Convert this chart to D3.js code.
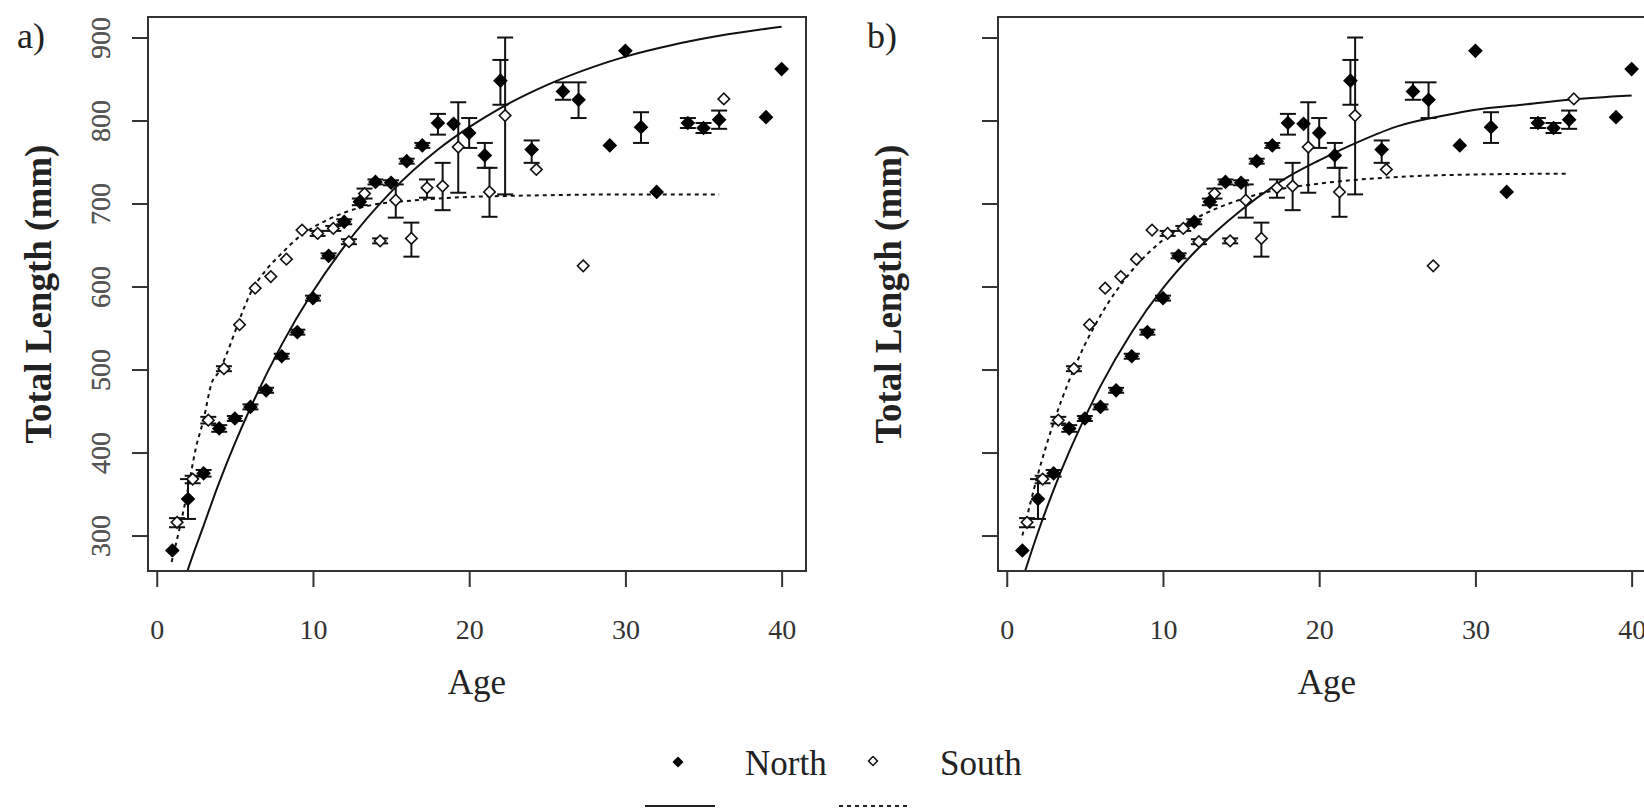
<!DOCTYPE html>
<html>
<head>
<meta charset="utf-8">
<script src="https://cdn.jsdelivr.net/npm/d3@7/dist/d3.min.js"></script>
<style>
  html, body { margin: 0; padding: 0; background: #ffffff; }
  svg { display: block; }
  text { font-family: "Liberation Serif", "Times New Roman", serif; }
</style>
</head>
<body>
<svg id="chart" width="1644" height="809"></svg>
<script>
// ---- North: mean total length (mm) by age, with standard-error limits ----
const northAge = [1, 2, 3, 4, 5, 6, 7, 8, 9, 10, 11, 12, 13, 14, 15, 16, 17, 18, 19, 20, 21, 22, 24, 26, 27, 29, 30, 31, 32, 34, 35, 36, 39, 40];
const northLen = [282, 344, 375, 429, 441, 455, 475, 516, 545, 586, 637, 678, 702, 726, 725, 751, 770, 797, 796, 785, 758, 848, 765, 835, 825, 770, 884, 792, 714, 797, 791, 801, 804, 862];
const northLo  = [null, 320, 371, 425, 438, 452, 472, 513, 542, 583, 634, 675, 698, 723, 722, 748, 767, 783, null, 767, 743, 819, 749, 825, 803, null, null, 773, null, 791, 785, 790, null, null];
const northHi  = [null, 368, 379, 433, 444, 458, 478, 519, 548, 589, 640, 681, 706, 729, 728, 754, 773, 808, null, 803, 773, 873, 776, 846, 846, null, null, 810, null, 803, 797, 812, null, null];

// ---- South: mean total length (mm) by age, with standard-error limits ----
const southAge = [1, 2, 3, 4, 5, 6, 7, 8, 9, 10, 11, 12, 13, 14, 15, 16, 17, 18, 19, 21, 22, 24, 27, 36];
const southLen = [316, 368, 439, 501, 554, 598, 612, 633, 668, 664, 670, 654, 712, 655, 704, 658, 719, 721, 768, 714, 806, 741, 625, 826];
const southLo  = [310, 363, 435, 498, null, null, null, null, null, 661, 667, 651, 706, 652, 683, 636, 707, 692, 713, 684, 711, null, null, null];
const southHi  = [321, 372, 443, 504, null, null, null, null, null, 667, 673, 657, 718, 658, 723, 677, 729, 749, 822, 743, 900, null, null, null];

// ---- Fitted growth curves, panel a ----
const fitAgeNorthA = [1, 1.96, 3, 4, 5, 6, 8, 10, 12, 15, 18, 20, 22, 25, 28, 30, 33, 36, 40];
const fitLenNorthA = [196, 257, 312, 364, 411, 454, 530, 594, 648, 714, 765, 792, 815, 843, 865, 877, 891, 902, 913];
const fitAgeSouthA = [0.95, 1.5, 2, 2.5, 3, 3.5, 4, 4.5, 5, 5.5, 6, 7, 8, 9, 10, 11, 12, 13, 14, 16, 18, 20, 22, 25, 30, 36];
const fitLenSouthA = [268, 312, 356, 405, 440, 483, 498, 520, 545, 570, 592, 620, 640, 658, 671, 681, 689, 695, 699, 703, 706, 708, 709, 710, 711, 711];

// ---- Fitted growth curves, panel b ----
const fitAgeNorthB = [1, 2, 3, 4, 5, 6, 8, 10, 12, 15, 18, 20, 22, 25, 28, 30, 33, 36, 40];
const fitLenNorthB = [247, 304, 355, 401, 442, 480, 545, 598, 641, 692, 732, 752, 770, 793, 806, 813, 819, 825, 830];
const fitAgeSouthB = [1, 2, 3, 4, 5, 6, 8, 10, 12, 15, 18, 20, 22, 25, 30, 36];
const fitLenSouthB = [300, 374, 436, 487, 530, 565, 619, 656, 681, 705, 719, 724, 728, 732, 735, 736];

// ---- Axis ticks and labels ----
const xTicks = [0, 10, 20, 30, 40];
const yTicks = [300, 400, 500, 600, 700, 800, 900];
const panelLabels = ["a)", "b)"];
const xTitle = "Age";
const yTitle = "Total Length (mm)";
const legendNames = ["North", "South"];

// ---- Layout ----
const svg = d3.select("#chart");
const plotW = 658, plotH = 554;
const plotTop = 17;
const panelLefts = [148, 998];
const SOUTH_SHIFT = 0.3;   // South means are drawn slightly right of the age to avoid overlap
const CAP = 8;             // half-width of error-bar caps

// Data extent padded by 4% on each side (as R plots do)
const allY = northLen.concat(southLen, northLo.filter(v => v != null), northHi.filter(v => v != null),
                             southLo.filter(v => v != null), southHi.filter(v => v != null));
const xExt = d3.extent(northAge.concat(southAge));
const yExt = d3.extent(allY);
const padX = (xExt[1] - xExt[0]) * 0.04, padY = (yExt[1] - yExt[0]) * 0.04;

const fits = [
  { north: [fitAgeNorthA, fitLenNorthA], south: [fitAgeSouthA, fitLenSouthA] },
  { north: [fitAgeNorthB, fitLenNorthB], south: [fitAgeSouthB, fitLenSouthB] }
];

const filledDiamond = d3.symbol(d3.symbolSquare, 108)();
const openDiamond = d3.symbol(d3.symbolSquare, 66)();

panelLefts.forEach((left, pi) => {
  const x = d3.scaleLinear().domain([xExt[0] - padX, xExt[1] + padX]).range([left, left + plotW]);
  const y = d3.scaleLinear().domain([yExt[0] - padY, yExt[1] + padY]).range([plotTop + plotH, plotTop]);

  const clipId = "clip" + pi;
  svg.append("clipPath").attr("id", clipId)
    .append("rect").attr("x", left).attr("y", plotTop).attr("width", plotW).attr("height", plotH);

  // axes (ticks + labels)
  const xAxis = svg.append("g").attr("transform", `translate(0,${plotTop + plotH})`)
    .call(d3.axisBottom(x).tickValues(xTicks).tickSize(16).tickPadding(32).tickFormat(d3.format("d")));
  xAxis.select(".domain").remove();
  xAxis.selectAll("line").attr("stroke", "#333").attr("stroke-width", 2);
  xAxis.selectAll("text").attr("font-size", 28).attr("fill", "#333").attr("dy", "0.71em")
    .style("font-family", '"Liberation Serif", serif');

  const yAxis = svg.append("g").attr("transform", `translate(${left},0)`)
    .call(d3.axisLeft(y).tickValues(yTicks).tickSize(16).tickFormat(d3.format("d")));
  yAxis.select(".domain").remove();
  yAxis.selectAll("line").attr("stroke", "#333").attr("stroke-width", 2);
  yAxis.selectAll(".tick text")
    .attr("x", null).attr("dy", null)
    .attr("text-anchor", "middle")
    .attr("transform", `translate(${110 - left},0) rotate(-90)`)
    .attr("font-size", 28).attr("fill", "#555")
    .style("font-family", '"Liberation Serif", serif');

  // axis titles and panel tag
  svg.append("text").attr("x", (x.range()[0] + x.range()[1]) / 2).attr("y", 694)
    .attr("text-anchor", "middle").attr("font-size", 35).attr("fill", "#222").text(xTitle);
  svg.append("text").attr("transform", `translate(${left - 97},${plotTop + plotH / 2}) rotate(-90)`)
    .attr("text-anchor", "middle").attr("font-size", 37).attr("font-weight", "bold").attr("fill", "#222").text(yTitle);
  svg.append("text").attr("x", left - 131).attr("y", 48)
    .attr("font-size", 36).attr("fill", "#222").text(panelLabels[pi]);

  const plot = svg.append("g").attr("clip-path", `url(#${clipId})`);

  // fitted curves
  const line = d3.line().x(d => x(d[0])).y(d => y(d[1])).curve(d3.curveMonotoneX);
  const nf = d3.zip(fits[pi].north[0], fits[pi].north[1]);
  const sf = d3.zip(fits[pi].south[0], fits[pi].south[1]);
  plot.append("path").attr("d", line(nf)).attr("fill", "none").attr("stroke", "#111").attr("stroke-width", 2);
  plot.append("path").attr("d", line(sf)).attr("fill", "none").attr("stroke", "#111").attr("stroke-width", 2)
    .attr("stroke-dasharray", "4,4");

  // error bars
  function bars(ages, lo, hi, shift) {
    ages.forEach((a, i) => {
      if (lo[i] == null) return;
      const cx = x(a + shift);
      const g = plot.append("g").attr("stroke", "#111").attr("stroke-width", 2);
      g.append("line").attr("x1", cx).attr("x2", cx).attr("y1", y(lo[i])).attr("y2", y(hi[i]));
      g.append("line").attr("x1", cx - CAP).attr("x2", cx + CAP).attr("y1", y(lo[i])).attr("y2", y(lo[i]));
      g.append("line").attr("x1", cx - CAP).attr("x2", cx + CAP).attr("y1", y(hi[i])).attr("y2", y(hi[i]));
    });
  }
  bars(northAge, northLo, northHi, 0);
  bars(southAge, southLo, southHi, SOUTH_SHIFT);

  // points
  plot.selectAll(null).data(d3.zip(southAge, southLen)).join("path")
    .attr("d", openDiamond)
    .attr("transform", d => `translate(${x(d[0] + SOUTH_SHIFT)},${y(d[1])}) rotate(45)`)
    .attr("fill", "#fff").attr("stroke", "#111").attr("stroke-width", 1.6);
  plot.selectAll(null).data(d3.zip(northAge, northLen)).join("path")
    .attr("d", filledDiamond)
    .attr("transform", d => `translate(${x(d[0])},${y(d[1])}) rotate(45)`)
    .attr("fill", "#000");

  // plot frame
  svg.append("rect").attr("x", left).attr("y", plotTop).attr("width", plotW).attr("height", plotH)
    .attr("fill", "none").attr("stroke", "#333").attr("stroke-width", 2);
});

// ---- Legend ----
const leg = svg.append("g");
leg.append("path").attr("d", d3.symbol(d3.symbolSquare, 60)())
  .attr("transform", "translate(678,762) rotate(45)").attr("fill", "#000");
leg.append("text").attr("x", 745).attr("y", 775).attr("font-size", 35).attr("fill", "#222").text(legendNames[0]);
leg.append("path").attr("d", d3.symbol(d3.symbolSquare, 40)())
  .attr("transform", "translate(873,761) rotate(45)").attr("fill", "#fff").attr("stroke", "#111").attr("stroke-width", 1.5);
leg.append("text").attr("x", 940).attr("y", 775).attr("font-size", 35).attr("fill", "#222").text(legendNames[1]);
leg.append("line").attr("x1", 645).attr("x2", 715).attr("y1", 806).attr("y2", 806)
  .attr("stroke", "#222").attr("stroke-width", 2);
leg.append("line").attr("x1", 839).attr("x2", 907).attr("y1", 806).attr("y2", 806)
  .attr("stroke", "#222").attr("stroke-width", 2).attr("stroke-dasharray", "4,4");
</script>
</body>
</html>
